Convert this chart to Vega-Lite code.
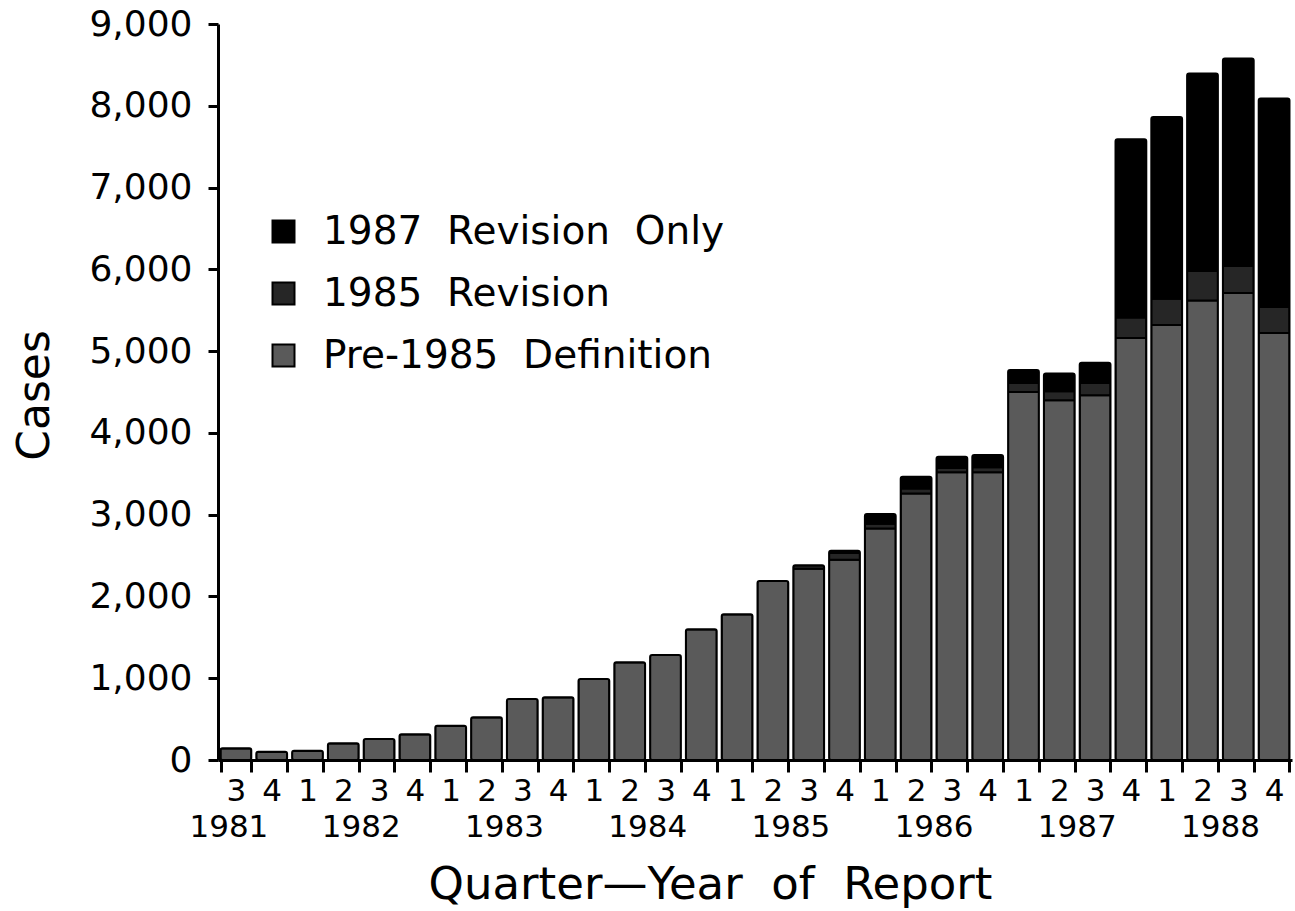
{
  "$schema": "https://vega.github.io/schema/vega-lite/v6.json",
  "width": 1074,
  "height": 736,
  "autosize": {"type": "none"},
  "padding": {"left": 218, "top": 24, "right": 3, "bottom": 151},
  "background": "white",
  "config": {"view": {"stroke": null}, "font": "DejaVu Sans"},
  "data": {
    "values": [
      {"quarter": "1981-3", "Pre-1985 Definition": 143, "1985 Revision": 0, "1987 Revision Only": 0},
      {"quarter": "1981-4", "Pre-1985 Definition": 102, "1985 Revision": 0, "1987 Revision Only": 0},
      {"quarter": "1982-1", "Pre-1985 Definition": 114, "1985 Revision": 0, "1987 Revision Only": 0},
      {"quarter": "1982-2", "Pre-1985 Definition": 204, "1985 Revision": 0, "1987 Revision Only": 0},
      {"quarter": "1982-3", "Pre-1985 Definition": 257, "1985 Revision": 0, "1987 Revision Only": 0},
      {"quarter": "1982-4", "Pre-1985 Definition": 314, "1985 Revision": 0, "1987 Revision Only": 0},
      {"quarter": "1983-1", "Pre-1985 Definition": 420, "1985 Revision": 0, "1987 Revision Only": 0},
      {"quarter": "1983-2", "Pre-1985 Definition": 522, "1985 Revision": 0, "1987 Revision Only": 0},
      {"quarter": "1983-3", "Pre-1985 Definition": 746, "1985 Revision": 0, "1987 Revision Only": 0},
      {"quarter": "1983-4", "Pre-1985 Definition": 767, "1985 Revision": 0, "1987 Revision Only": 0},
      {"quarter": "1984-1", "Pre-1985 Definition": 990, "1985 Revision": 0, "1987 Revision Only": 0},
      {"quarter": "1984-2", "Pre-1985 Definition": 1194, "1985 Revision": 0, "1987 Revision Only": 0},
      {"quarter": "1984-3", "Pre-1985 Definition": 1284, "1985 Revision": 0, "1987 Revision Only": 0},
      {"quarter": "1984-4", "Pre-1985 Definition": 1598, "1985 Revision": 0, "1987 Revision Only": 0},
      {"quarter": "1985-1", "Pre-1985 Definition": 1781, "1985 Revision": 0, "1987 Revision Only": 0},
      {"quarter": "1985-2", "Pre-1985 Definition": 2190, "1985 Revision": 0, "1987 Revision Only": 0},
      {"quarter": "1985-3", "Pre-1985 Definition": 2340, "1985 Revision": 40, "1987 Revision Only": 0},
      {"quarter": "1985-4", "Pre-1985 Definition": 2450, "1985 Revision": 80, "1987 Revision Only": 30},
      {"quarter": "1986-1", "Pre-1985 Definition": 2830, "1985 Revision": 60, "1987 Revision Only": 117},
      {"quarter": "1986-2", "Pre-1985 Definition": 3260, "1985 Revision": 60, "1987 Revision Only": 143},
      {"quarter": "1986-3", "Pre-1985 Definition": 3520, "1985 Revision": 50, "1987 Revision Only": 138},
      {"quarter": "1986-4", "Pre-1985 Definition": 3520, "1985 Revision": 60, "1987 Revision Only": 149},
      {"quarter": "1987-1", "Pre-1985 Definition": 4500, "1985 Revision": 110, "1987 Revision Only": 158},
      {"quarter": "1987-2", "Pre-1985 Definition": 4400, "1985 Revision": 110, "1987 Revision Only": 217},
      {"quarter": "1987-3", "Pre-1985 Definition": 4460, "1985 Revision": 150, "1987 Revision Only": 247},
      {"quarter": "1987-4", "Pre-1985 Definition": 5160, "1985 Revision": 250, "1987 Revision Only": 2182},
      {"quarter": "1988-1", "Pre-1985 Definition": 5320, "1985 Revision": 320, "1987 Revision Only": 2224},
      {"quarter": "1988-2", "Pre-1985 Definition": 5620, "1985 Revision": 360, "1987 Revision Only": 2414},
      {"quarter": "1988-3", "Pre-1985 Definition": 5710, "1985 Revision": 330, "1987 Revision Only": 2538},
      {"quarter": "1988-4", "Pre-1985 Definition": 5220, "1985 Revision": 320, "1987 Revision Only": 2549}
    ]
  },
  "transform": [
    {"fold": ["Pre-1985 Definition", "1985 Revision", "1987 Revision Only"], "as": ["definition", "cases"]},
    {"calculate": "indexof(['Pre-1985 Definition', '1985 Revision', '1987 Revision Only'], datum.definition)", "as": "stackOrder"}
  ],
  "layer": [
    {
      "mark": {"type": "bar", "stroke": "black", "strokeWidth": 2, "cornerRadius": 2},
      "encoding": {
        "x": {
          "field": "quarter", "type": "ordinal", "sort": null,
          "scale": {"paddingInner": 0.14, "paddingOuter": 0.07},
          "axis": {
            "orient": "bottom", "title": null,
            "labelExpr": "split(datum.value, '-')[1]",
            "labelAngle": 0, "labelFontSize": 31, "labelColor": "black", "labelPadding": 4,
            "labelOverlap": false,
            "tickBand": "extent", "tickSize": 12, "tickWidth": 3, "tickColor": "black",
            "domainWidth": 3, "domainColor": "black"
          }
        },
        "y": {
          "field": "cases", "type": "quantitative", "stack": "zero",
          "scale": {"domain": [0, 9000]},
          "axis": {
            "values": [0, 1000, 2000, 3000, 4000, 5000, 6000, 7000, 8000, 9000],
            "format": ",d", "grid": false,
            "title": "Cases", "titleFontSize": 44, "titleFontWeight": "normal", "titleColor": "black",
            "titleAngle": -90, "titleBaseline": "middle", "titleAlign": "center",
            "titleX": -183, "titleY": 371,
            "labelFontSize": 36, "labelColor": "black", "labelPadding": 16,
            "tickSize": 10, "tickWidth": 3, "tickColor": "black",
            "domainWidth": 3, "domainColor": "black"
          }
        },
        "order": {"field": "stackOrder", "type": "quantitative", "sort": "ascending"},
        "color": {
          "field": "definition", "type": "nominal",
          "sort": ["1987 Revision Only", "1985 Revision", "Pre-1985 Definition"],
          "scale": {
            "range": ["#000000", "#262626", "#5a5a5a"]
          },
          "legend": {
            "orient": "none", "legendX": 46, "legendY": 188, "title": null,
            "labelFontSize": 39, "labelColor": "black", "labelOffset": 20, "labelLimit": 800,
            "labelExpr": "replace(replace(datum.label, ' ', '\u00a0\u00a0'), ' ', '\u00a0\u00a0')",
            "symbolType": "square", "symbolSize": 484,
            "symbolStrokeColor": "black", "symbolStrokeWidth": 2,
            "rowPadding": 22
          }
        }
      }
    },
    {
      "mark": {"type": "bar", "opacity": 0},
      "encoding": {
        "x": {
          "field": "quarter", "type": "ordinal", "sort": null,
          "axis": {
            "orient": "bottom",
            "labelExpr": "(split(datum.value, '-')[1] == '2' || datum.value == '1981-3') ? split(datum.value, '-')[0] : ''",
            "labelAngle": 0, "labelFontSize": 31, "labelColor": "black", "labelPadding": 52,
            "labelOverlap": false,
            "labelOffset": {"condition": {"test": "datum.value == '1981-3'", "value": -7}, "value": 18},
            "ticks": false, "domain": false,
            "title": "Quarter\u2014Year\u00a0\u00a0of\u00a0\u00a0Report", "titleFontSize": 45, "titleFontWeight": "normal",
            "titleColor": "black", "titleX": 492, "titleY": 138,
            "titleBaseline": "alphabetic", "titleAlign": "center"
          }
        },
        "y": {
          "field": "cases", "type": "quantitative",
          "axis": {
            "values": [0, 1000, 2000, 3000, 4000, 5000, 6000, 7000, 8000, 9000],
            "format": ",d", "grid": false,
            "title": "Cases", "titleFontSize": 44, "titleFontWeight": "normal", "titleColor": "black",
            "titleAngle": -90, "titleBaseline": "middle", "titleAlign": "center",
            "titleX": -183, "titleY": 371,
            "labelFontSize": 36, "labelColor": "black", "labelPadding": 16,
            "tickSize": 10, "tickWidth": 3, "tickColor": "black",
            "domainWidth": 3, "domainColor": "black"
          }
        }
      }
    }
  ],
  "resolve": {"axis": {"x": "independent"}}
}
